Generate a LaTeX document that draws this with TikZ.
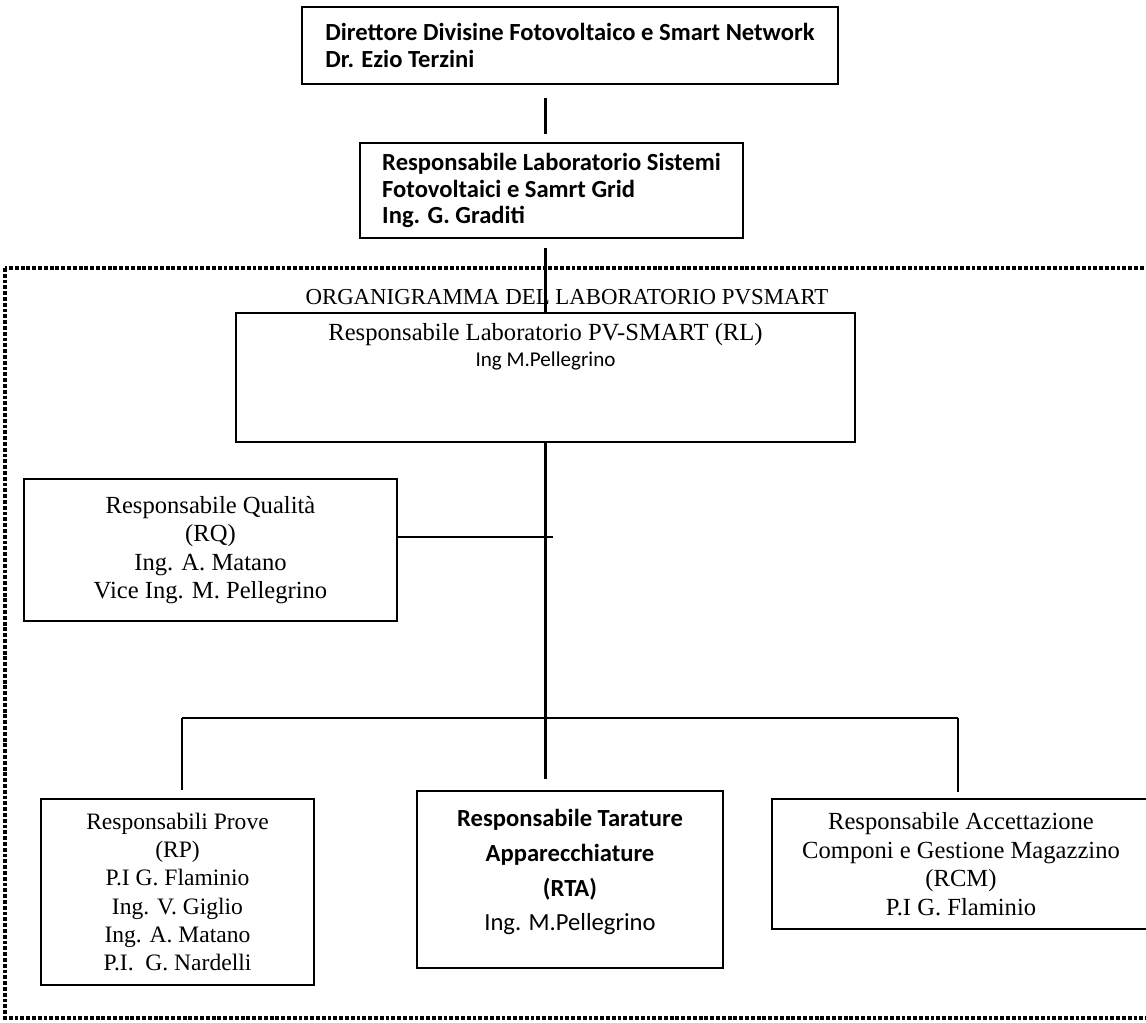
\documentclass[tikz,border=0pt]{standalone}
\usepackage{fontspec}
\setmainfont{Liberation Serif}
\newfontfamily\calibri{Carlito}
\usepackage{tikz}
\usetikzlibrary{positioning}

\begin{document}
\begin{tikzpicture}[x=0.02cm,y=-0.02cm]
\tikzstyle{every node} = [draw, rectangle, line width=1.2pt, inner sep=0pt]
\tikzstyle{plain} = [draw=none]
\tikzstyle{sanstext} = [font=\calibri\bfseries\fontsize{14}{15.2}\selectfont]
\tikzstyle{seriftext} = [align=center, font=\fontsize{14}{16.2}\selectfont]
\tikzstyle{link} = [line width=1.2pt]
\tikzstyle{frame} = [line width=1.8pt, dash pattern=on 2.2pt off 1.1pt]

\useasboundingbox (0,0) rectangle (1146,1022);

% direzione
\node[sanstext, align=left, minimum width=10.72cm, minimum height=1.54cm] (dir) at (570,45.5)
  {Direttore Divisine Fotovoltaico e Smart Network\\Dr. Ezio Terzini};
\node[sanstext, align=left, minimum width=7.66cm, minimum height=1.9cm] (resp) at (551.5,190.5)
  {Responsabile Laboratorio Sistemi\\Fotovoltaici e Samrt Grid\\Ing. G. Graditi};

% laboratorio
\draw[frame] (5,268) rectangle (1152,1018);
\node[plain, font=\fontsize{13}{14}\selectfont] (title) at (567,297) {ORGANIGRAMMA DEL LABORATORIO PVSMART};

\node[minimum width=12.38cm, minimum height=2.58cm] (rl) at (545.5,377.5) {};
\node[plain, seriftext, below=0.2cm of rl.north] (rlname)
  {Responsabile Laboratorio PV-SMART (RL)\\[-1pt]{\calibri\fontsize{12}{13}\selectfont Ing M.Pellegrino}};

\node[seriftext, minimum width=7.46cm, minimum height=2.84cm] (rq) at (210.5,550)
  {Responsabile Qualità\\(RQ)\\Ing. A. Matano\\Vice Ing. M. Pellegrino};

\node[seriftext, font=\fontsize{13.4}{16}\selectfont, minimum width=5.46cm, minimum height=3.72cm] (rp) at (177.5,892)
  {Responsabili Prove\\(RP)\\P.I G. Flaminio\\Ing. V. Giglio\\Ing. A. Matano\\P.I.\ \ G. Nardelli};
\node[sanstext, align=center, font=\calibri\bfseries\fontsize{14}{19.8}\selectfont,
  minimum width=6.12cm, minimum height=3.54cm] (rta) at (570,879.5)
  {Responsabile Tarature\\Apparecchiature\\(RTA)\\{\mdseries Ing. M.Pellegrino}\\[-15pt]\strut};
\node[seriftext, minimum width=7.56cm, minimum height=2.6cm] (rcm) at (961,864)
  {Responsabile Accettazione\\Componi e Gestione Magazzino\\(RCM)\\P.I G. Flaminio};

% collegamenti
\coordinate (rqend) at (553,537);
\coordinate (jl) at (182,718);
\coordinate (jr) at (958,718);

\draw[link, shorten <=0.26cm, shorten >=0.16cm] (dir.south -| rl.north) -- (resp.north -| rl.north);
\draw[link, shorten <=0.18cm] (resp.south -| rl.north) -- (rl.north);
\draw[link, shorten >=0.22cm] (rl.south) -- (rl.south |- rta.north);
\draw[link] (rqend) -- (rqend -| rq.east);
\draw[link] (jl) -- (jr);
\draw[link, shorten >=0.16cm] (jl) -- (jl |- rp.north);
\draw[link, shorten >=0.12cm] (jr) -- (jr |- rcm.north);

\end{tikzpicture}
\end{document}
